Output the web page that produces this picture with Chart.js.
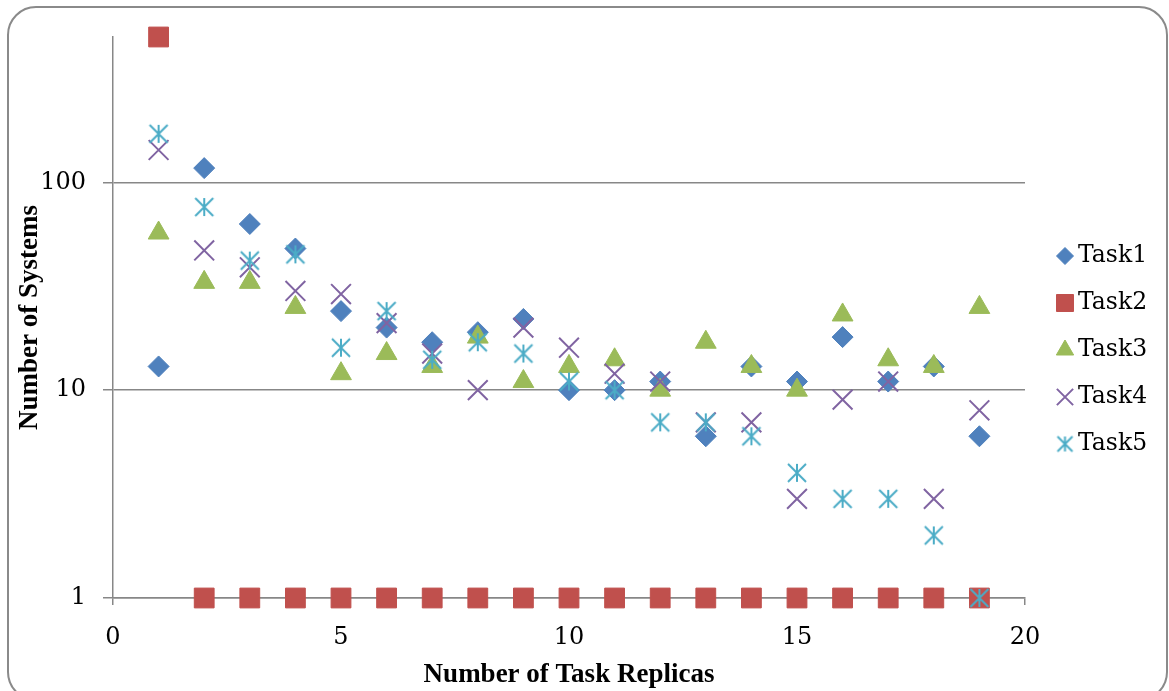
<!DOCTYPE html>
<html>
<head>
<meta charset="utf-8">
<script src="https://cdn.jsdelivr.net/npm/chart.js@4/dist/chart.umd.min.js"></script>
<style>
  html, body { margin: 0; padding: 0; background: #fff; }
  #wrap { width: 1169px; height: 691px; }
</style>
</head>
<body>
<div id="wrap"><canvas id="replicaChart" width="1169" height="691"></canvas></div>
<script>
// values
const replicas = [1, 2, 3, 4, 5, 6, 7, 8, 9, 10, 11, 12, 13, 14, 15, 16, 17, 18, 19];
const task1 = [13, 117, 63, 48, 24, 20, 17, 19, 22, 10, 10, 11, 6, 13, 11, 18, 11, 13, 6];
const task2 = [500, 1, 1, 1, 1, 1, 1, 1, 1, 1, 1, 1, 1, 1, 1, 1, 1, 1, 1];
const task3 = [57, 33, 33, 25, 12, 15, 13, 18, 11, 13, 14, 10, 17, 13, 10, 23, 14, 13, 25];
const task4 = [143, 47, 39, 30, 29, 21, 15, 10, 20, 16, 12, 11, 7, 7, 3, 9, 11, 3, 8];
const task5 = [171, 76, 42, 45, 16, 24, 14, 17, 15, 11, 10, 7, 7, 6, 4, 3, 3, 2, 1];
const seriesNames = ['Task1', 'Task2', 'Task3', 'Task4', 'Task5'];
const xTicks = [0, 5, 10, 15, 20];
const yTicks = [1, 10, 100];

const colors = ['#4F81BD', '#C0504D', '#9BBB59', '#8064A2', '#4BACC6'];
const axisGray = '#878787';
const tickFont = { family: 'DejaVu Serif', size: 24 };
const titleFont = { family: 'Liberation Serif', size: 27, weight: 'bold' };

// asterisk marker (vertical bar + X), like the spreadsheet one
function makeAsterisk (size, color, lw) {
  const c = document.createElement('canvas');
  c.width = size;
  c.height = size;
  const g = c.getContext('2d');
  const m = lw;
  g.strokeStyle = color;
  g.lineWidth = lw;
  g.beginPath();
  g.moveTo(size / 2, m); g.lineTo(size / 2, size - m);
  g.moveTo(m, m); g.lineTo(size - m, size - m);
  g.moveTo(size - m, m); g.lineTo(m, size - m);
  g.stroke();
  return c;
}
const asterisk = makeAsterisk(22, colors[4], 2);
const asteriskSmall = makeAsterisk(19, colors[4], 2);

function toPoints (values) {
  return values.map((v, i) => ({ x: replicas[i], y: v }));
}

const markerStyle = [
  { pointStyle: 'rectRot', radius: 10.5, borderWidth: 1 },
  { pointStyle: 'rect', radius: 14, borderWidth: 1 },
  { pointStyle: 'triangle', radius: 12, borderWidth: 1 },
  { pointStyle: 'crossRot', radius: 14, borderWidth: 2 },
  { pointStyle: asterisk, radius: 11, borderWidth: 2 }
];
const legendStyle = [
  { pointStyle: 'rectRot', radius: 8.5, borderWidth: 1 },
  { pointStyle: 'rect', radius: 12, borderWidth: 1 },
  { pointStyle: 'triangle', radius: 10, borderWidth: 1 },
  { pointStyle: 'crossRot', radius: 11.5, borderWidth: 2 },
  { pointStyle: asteriskSmall, radius: 9, borderWidth: 2 }
];

const allValues = [task1, task2, task3, task4, task5];
const datasets = allValues.map((vals, i) => ({
  label: seriesNames[i],
  data: toPoints(vals),
  showLine: false,
  clip: false,
  pointStyle: markerStyle[i].pointStyle,
  pointRadius: markerStyle[i].radius,
  pointHoverRadius: markerStyle[i].radius,
  pointBorderWidth: markerStyle[i].borderWidth,
  backgroundColor: colors[i],
  borderColor: colors[i],
  order: 5 - i
}));

// frame with rounded corners
const framePlugin = {
  id: 'frame',
  beforeDraw (chart) {
    const ctx = chart.ctx;
    ctx.save();
    ctx.fillStyle = '#fff';
    ctx.fillRect(0, 0, chart.width, chart.height);
    ctx.beginPath();
    ctx.roundRect(8, 7, 1159, 693, 28);
    ctx.strokeStyle = '#8a8a8a';
    ctx.lineWidth = 2;
    ctx.stroke();
    ctx.restore();
  }
};

// legend on the right, one row per series
const sideLegend = {
  id: 'sideLegend',
  afterDraw (chart) {
    const ctx = chart.ctx;
    ctx.save();
    chart.data.datasets.forEach((ds, i) => {
      const y = 256 + i * 47;
      const st = legendStyle[i];
      ctx.fillStyle = colors[i];
      ctx.strokeStyle = colors[i];
      ctx.lineWidth = st.borderWidth;
      Chart.helpers.drawPoint(ctx, { pointStyle: st.pointStyle, radius: st.radius, rotation: 0, borderWidth: st.borderWidth }, 1065, y);
      ctx.fillStyle = '#000';
      ctx.font = '23.5px "DejaVu Serif"';
      ctx.textAlign = 'left';
      ctx.textBaseline = 'middle';
      ctx.fillText(ds.label, 1078, y);
    });
    ctx.restore();
  }
};

new Chart(document.getElementById('replicaChart'), {
  type: 'scatter',
  data: { datasets },
  options: {
    responsive: false,
    animation: false,
    events: [],
    layout: { padding: { top: 37, right: 144, left: 0, bottom: 0 } },
    plugins: {
      legend: { display: false },
      tooltip: { enabled: false }
    },
    scales: {
      x: {
        type: 'linear',
        min: 0,
        max: 20,
        afterBuildTicks: scale => { scale.ticks = xTicks.map(v => ({ value: v })); },
        afterFit: scale => { scale.height = 93; },
        ticks: { color: '#000', font: tickFont, padding: 18, callback: v => String(v) },
        grid: { drawOnChartArea: false, drawTicks: true, tickLength: 7, color: axisGray, lineWidth: 1.5 },
        border: { color: axisGray, width: 1.5 },
        title: { display: true, text: 'Number of Task Replicas', color: '#000', font: titleFont, padding: { top: 0, bottom: 0 } }
      },
      y: {
        type: 'logarithmic',
        min: 1,
        max: 500,
        afterBuildTicks: scale => { scale.ticks = yTicks.map(v => ({ value: v })); },
        afterFit: scale => { scale.width = 113; },
        ticks: { color: '#000', font: tickFont, padding: 17, callback: v => String(v) },
        grid: { color: axisGray, lineWidth: 1.5, tickLength: 10 },
        border: { color: axisGray, width: 1.5 },
        title: { display: true, text: 'Number of Systems', color: '#000', font: titleFont, padding: { top: 14, bottom: 0 } }
      }
    }
  },
  plugins: [framePlugin, sideLegend]
});
</script>
</body>
</html>
